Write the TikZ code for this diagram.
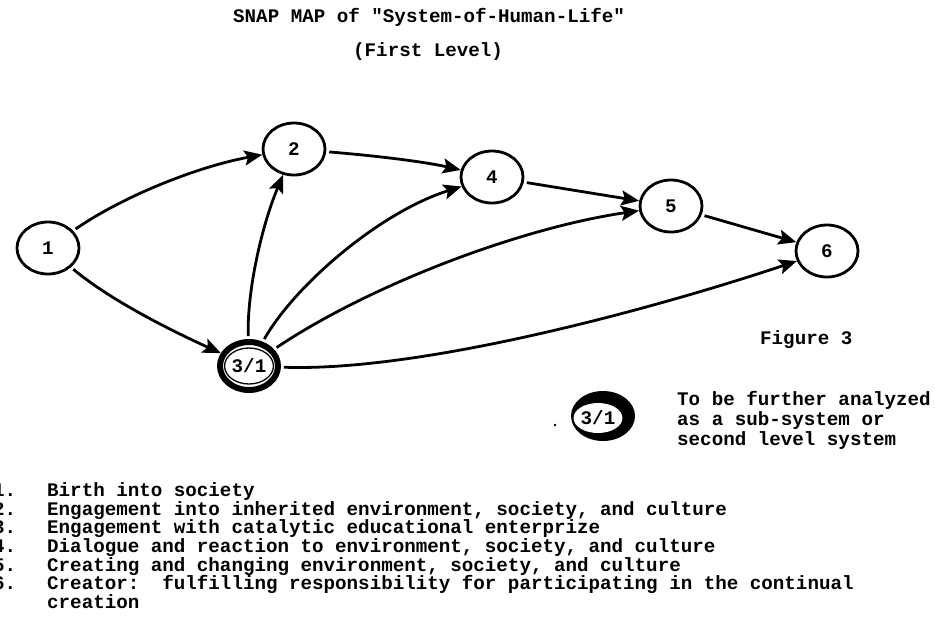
\documentclass[tikz,border=0pt]{standalone}
\usepackage{fontspec}
\setmainfont{Liberation Mono}
\usetikzlibrary{arrows.meta,shapes.geometric}
\begin{document}
\begin{tikzpicture}[x=1pt,y=-1pt,
  tw/.style={font=\fontsize{19.2}{18.5}\selectfont\bfseries, inner sep=0pt, anchor=mid west},
  stage/.style={ellipse, draw, line width=2.8pt, minimum width=62pt, minimum height=52pt, inner sep=0pt,
    font=\fontsize{19.2}{18.5}\selectfont\bfseries},
  subsys/.style={ellipse, draw, line width=6pt, minimum width=58pt, minimum height=48pt, inner sep=0pt},
  arr/.style={line width=2.8pt, -{Stealth[length=18pt,width=15pt,inset=3.5pt]}, shorten <=3pt}
]
\useasboundingbox (0,0) rectangle (935,641);

% title
\node[tw] (title) at (233,20) {SNAP MAP of \textquotedbl System-of-Human-Life\textquotedbl};
\node[tw] (level) at (353,54) {(First Level)};

% stages
\node[stage] (n1) at (48,248) {1};
\node[stage] (n2) at (294,149) {2};
\node[stage] (n4) at (492,177) {4};
\node[stage] (n5) at (671,206) {5};
\node[stage] (n6) at (827,251) {6};
\node[subsys] (n3) at (249,366) {};
\node[ellipse, draw, line width=1.3pt, minimum width=45pt, minimum height=36pt, inner sep=0pt,
  font=\fontsize{19.2}{18.5}\selectfont\bfseries] (n3in) at (249,366) {3/1};

% connectors
\draw[arr] (n1) .. controls (125,195) and (200,166) .. (n2);
\draw[arr] (n1) .. controls (110,300) and (170,330) .. (n3);
\draw[arr] (n2) .. controls (390,157) and (430,163) .. (n4);
\draw[arr] (n3) .. controls (247,290) and (262,225) .. (n2);
\draw[arr] (n3) .. controls (295,285) and (380,212) .. (n4);
\draw[arr] (n3) .. controls (370,285) and (520,228) .. (n5);
\draw[arr] (n3) .. controls (420,372) and (650,310) .. (n6);
\draw[arr] (n4) -- (n5);
\draw[arr] (n5) -- (n6);

% figure label
\node[tw] (fig) at (760,342) {Figure 3};

% legend
\node[ellipse, fill=black, minimum width=64pt, minimum height=50pt, inner sep=0pt] (leg) at (603,416) {};
\node[ellipse, fill=white, minimum width=36pt, minimum height=30pt, inner sep=0pt,
  font=\fontsize{19.2}{18.5}\selectfont\bfseries] (legin) at (598,418) {3/1};
\fill (555,425) circle[radius=1.4pt];
\node[tw] (lg1) at (677,403) {To be further analyzed};
\node[tw] (lg2) at (677,423) {as a sub-system or};
\node[tw] (lg3) at (677,443) {second level system};

% list
\foreach \n/\t [count=\i from 0] in {1/Birth into society,
  2/{Engagement into inherited environment, society, and culture},
  3/Engagement with catalytic educational enterprize,
  4/{Dialogue and reaction to environment, society, and culture},
  5/{Creating and changing environment, society, and culture},
  6/{Creator:\ \ fulfilling responsibility for participating in the continual}} {
  \node[tw] (num\n) at (-7,494+18.6*\i) {\n.};
  \node[tw] (item\n) at (47,494+18.6*\i) {\t};
}
\node[tw] (item6b) at (47,494+18.6*6) {creation};
\end{tikzpicture}
\end{document}
